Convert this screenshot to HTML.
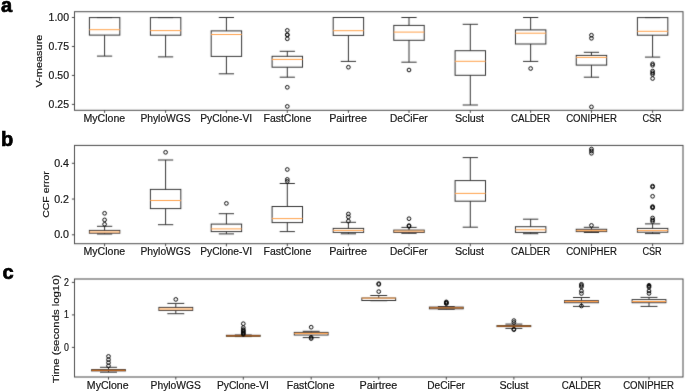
<!DOCTYPE html>
<html><head><meta charset="utf-8"><style>
html,body{margin:0;padding:0;background:#fff;}
body{width:685px;height:392px;overflow:hidden;}
svg{display:block;will-change:transform;}
svg g line, svg g rect{stroke:#333333;stroke-width:1.0;fill:none;}
line.m{stroke:#ffa048;stroke-width:1.0;}
circle.o{stroke:#000;stroke-width:0.95;fill:none;}
rect.sp{stroke:#484848;stroke-width:1.0;fill:none;}
line.tk{stroke:#484848;stroke-width:1.0;}
text{font-family:"Liberation Sans",sans-serif;fill:#1a1a1a;stroke:#1a1a1a;stroke-width:0.2px;}
text.xl{font-size:10.0px;text-anchor:middle;}
text.yl{font-size:10.0px;text-anchor:end;}
text.al{font-size:9.6px;text-anchor:middle;}
text.pl{font-size:20px;font-weight:bold;fill:#000;stroke:#000;stroke-width:0.7px;}
</style></head><body>
<svg width="685" height="392" viewBox="0 0 685 392">
<defs><filter id="bl" x="0" y="0" width="685" height="392" filterUnits="userSpaceOnUse"><feConvolveMatrix order="3" kernelMatrix="1 8 1 8 64 8 1 8 1" edgeMode="duplicate" preserveAlpha="false"/></filter></defs>
<rect width="685" height="392" fill="#fff"/>
<g filter="url(#bl)">
<g><line x1="104.6" y1="17.6" x2="104.6" y2="17.6"/><line x1="104.6" y1="35.1" x2="104.6" y2="56.1"/><line x1="96.99" y1="17.6" x2="112.21" y2="17.6"/><line x1="96.99" y1="56.1" x2="112.21" y2="56.1"/><rect x="89.39" y="17.6" width="30.43" height="17.5"/></g>
<line class="m" x1="89.39" y1="29.7" x2="119.81" y2="29.7"/>
<g><line x1="165.6" y1="17.6" x2="165.6" y2="17.6"/><line x1="165.6" y1="35.2" x2="165.6" y2="56.9"/><line x1="157.99" y1="17.6" x2="173.21" y2="17.6"/><line x1="157.99" y1="56.9" x2="173.21" y2="56.9"/><rect x="150.39" y="17.6" width="30.43" height="17.6"/></g>
<line class="m" x1="150.39" y1="30.6" x2="180.81" y2="30.6"/>
<g><line x1="226.4" y1="17.5" x2="226.4" y2="30.9"/><line x1="226.4" y1="56.4" x2="226.4" y2="73.8"/><line x1="218.79" y1="17.5" x2="234.01" y2="17.5"/><line x1="218.79" y1="73.8" x2="234.01" y2="73.8"/><rect x="211.19" y="30.9" width="30.43" height="25.5"/></g>
<line class="m" x1="211.19" y1="34.5" x2="241.61" y2="34.5"/>
<g><line x1="287.3" y1="51.3" x2="287.3" y2="56.3"/><line x1="287.3" y1="67.2" x2="287.3" y2="77.2"/><line x1="279.69" y1="51.3" x2="294.91" y2="51.3"/><line x1="279.69" y1="77.2" x2="294.91" y2="77.2"/><rect x="272.09" y="56.3" width="30.43" height="10.9"/></g>
<line class="m" x1="272.09" y1="59.4" x2="302.51" y2="59.4"/>
<circle class="o" cx="287.3" cy="30.4" r="1.85"/>
<circle class="o" cx="287.3" cy="34.7" r="1.85"/>
<circle class="o" cx="287.3" cy="35" r="1.85"/>
<circle class="o" cx="287.3" cy="38.8" r="1.85"/>
<circle class="o" cx="287.3" cy="87.3" r="1.85"/>
<circle class="o" cx="287.3" cy="106.4" r="1.85"/>
<g><line x1="348.4" y1="17.5" x2="348.4" y2="17.5"/><line x1="348.4" y1="35.4" x2="348.4" y2="61.4"/><line x1="340.79" y1="17.5" x2="356.01" y2="17.5"/><line x1="340.79" y1="61.4" x2="356.01" y2="61.4"/><rect x="333.19" y="17.5" width="30.43" height="17.9"/></g>
<line class="m" x1="333.19" y1="30.7" x2="363.61" y2="30.7"/>
<circle class="o" cx="348.4" cy="67.2" r="1.85"/>
<g><line x1="409" y1="17.5" x2="409" y2="25.4"/><line x1="409" y1="40.3" x2="409" y2="62.2"/><line x1="401.39" y1="17.5" x2="416.61" y2="17.5"/><line x1="401.39" y1="62.2" x2="416.61" y2="62.2"/><rect x="393.79" y="25.4" width="30.43" height="14.9"/></g>
<line class="m" x1="393.79" y1="32.1" x2="424.21" y2="32.1"/>
<circle class="o" cx="409" cy="70" r="1.85"/>
<g><line x1="470.3" y1="24.3" x2="470.3" y2="50.7"/><line x1="470.3" y1="75.3" x2="470.3" y2="105"/><line x1="462.69" y1="24.3" x2="477.91" y2="24.3"/><line x1="462.69" y1="105" x2="477.91" y2="105"/><rect x="455.09" y="50.7" width="30.43" height="24.6"/></g>
<line class="m" x1="455.09" y1="61.3" x2="485.51" y2="61.3"/>
<g><line x1="530.65" y1="17.5" x2="530.65" y2="29.9"/><line x1="530.65" y1="44" x2="530.65" y2="61.4"/><line x1="523.04" y1="17.5" x2="538.26" y2="17.5"/><line x1="523.04" y1="61.4" x2="538.26" y2="61.4"/><rect x="515.44" y="29.9" width="30.43" height="14.1"/></g>
<line class="m" x1="515.44" y1="33.2" x2="545.86" y2="33.2"/>
<circle class="o" cx="530.65" cy="68.5" r="1.85"/>
<g><line x1="591.45" y1="52.3" x2="591.45" y2="55.4"/><line x1="591.45" y1="65.1" x2="591.45" y2="77.2"/><line x1="583.84" y1="52.3" x2="599.06" y2="52.3"/><line x1="583.84" y1="77.2" x2="599.06" y2="77.2"/><rect x="576.24" y="55.4" width="30.43" height="9.7"/></g>
<line class="m" x1="576.24" y1="57.4" x2="606.66" y2="57.4"/>
<circle class="o" cx="591.45" cy="35.2" r="1.85"/>
<circle class="o" cx="591.45" cy="38.3" r="1.85"/>
<circle class="o" cx="591.45" cy="106.9" r="1.85"/>
<g><line x1="652.6" y1="17.6" x2="652.6" y2="17.6"/><line x1="652.6" y1="35.2" x2="652.6" y2="57.1"/><line x1="644.99" y1="17.6" x2="660.21" y2="17.6"/><line x1="644.99" y1="57.1" x2="660.21" y2="57.1"/><rect x="637.39" y="17.6" width="30.43" height="17.6"/></g>
<line class="m" x1="637.39" y1="31.3" x2="667.81" y2="31.3"/>
<circle class="o" cx="652.6" cy="63.8" r="1.85"/>
<circle class="o" cx="652.6" cy="65.3" r="1.85"/>
<circle class="o" cx="652.6" cy="71.1" r="1.85"/>
<circle class="o" cx="652.6" cy="72.8" r="1.85"/>
<circle class="o" cx="652.6" cy="74.4" r="1.85"/>
<circle class="o" cx="652.6" cy="78.5" r="1.85"/>
<rect class="sp" x="74.5" y="11.7" width="608.5" height="98.6"/>
<line class="tk" x1="104.6" y1="110.3" x2="104.6" y2="112.9"/>
<line class="tk" x1="165.6" y1="110.3" x2="165.6" y2="112.9"/>
<line class="tk" x1="226.4" y1="110.3" x2="226.4" y2="112.9"/>
<line class="tk" x1="287.3" y1="110.3" x2="287.3" y2="112.9"/>
<line class="tk" x1="348.4" y1="110.3" x2="348.4" y2="112.9"/>
<line class="tk" x1="409" y1="110.3" x2="409" y2="112.9"/>
<line class="tk" x1="470.3" y1="110.3" x2="470.3" y2="112.9"/>
<line class="tk" x1="530.65" y1="110.3" x2="530.65" y2="112.9"/>
<line class="tk" x1="591.45" y1="110.3" x2="591.45" y2="112.9"/>
<line class="tk" x1="652.6" y1="110.3" x2="652.6" y2="112.9"/>
<line class="tk" x1="71.9" y1="17.5" x2="74.5" y2="17.5"/>
<line class="tk" x1="71.9" y1="46.47" x2="74.5" y2="46.47"/>
<line class="tk" x1="71.9" y1="75.43" x2="74.5" y2="75.43"/>
<line class="tk" x1="71.9" y1="104.4" x2="74.5" y2="104.4"/>
<g><line x1="104.6" y1="226.3" x2="104.6" y2="230.4"/><line x1="104.6" y1="233.2" x2="104.6" y2="234"/><line x1="96.99" y1="226.3" x2="112.21" y2="226.3"/><line x1="96.99" y1="234" x2="112.21" y2="234"/><rect x="89.39" y="230.4" width="30.43" height="2.8"/></g>
<line class="m" x1="89.39" y1="232" x2="119.81" y2="232"/>
<circle class="o" cx="104.6" cy="213.3" r="1.85"/>
<circle class="o" cx="104.6" cy="219.9" r="1.85"/>
<circle class="o" cx="104.6" cy="224.3" r="1.85"/>
<g><line x1="165.6" y1="160" x2="165.6" y2="189.4"/><line x1="165.6" y1="208.6" x2="165.6" y2="224.7"/><line x1="157.99" y1="160" x2="173.21" y2="160"/><line x1="157.99" y1="224.7" x2="173.21" y2="224.7"/><rect x="150.39" y="189.4" width="30.43" height="19.2"/></g>
<line class="m" x1="150.39" y1="200.5" x2="180.81" y2="200.5"/>
<circle class="o" cx="165.6" cy="152.3" r="1.85"/>
<g><line x1="226.4" y1="213.7" x2="226.4" y2="224.1"/><line x1="226.4" y1="231.6" x2="226.4" y2="233.9"/><line x1="218.79" y1="213.7" x2="234.01" y2="213.7"/><line x1="218.79" y1="233.9" x2="234.01" y2="233.9"/><rect x="211.19" y="224.1" width="30.43" height="7.5"/></g>
<line class="m" x1="211.19" y1="228.9" x2="241.61" y2="228.9"/>
<circle class="o" cx="226.4" cy="203.4" r="1.85"/>
<g><line x1="287.3" y1="183.5" x2="287.3" y2="206.5"/><line x1="287.3" y1="222.6" x2="287.3" y2="231.6"/><line x1="279.69" y1="183.5" x2="294.91" y2="183.5"/><line x1="279.69" y1="231.6" x2="294.91" y2="231.6"/><rect x="272.09" y="206.5" width="30.43" height="16.1"/></g>
<line class="m" x1="272.09" y1="218.6" x2="302.51" y2="218.6"/>
<circle class="o" cx="287.3" cy="169.5" r="1.85"/>
<circle class="o" cx="287.3" cy="179.4" r="1.85"/>
<circle class="o" cx="287.3" cy="181.4" r="1.85"/>
<g><line x1="348.4" y1="222.3" x2="348.4" y2="228.4"/><line x1="348.4" y1="232.4" x2="348.4" y2="233.8"/><line x1="340.79" y1="222.3" x2="356.01" y2="222.3"/><line x1="340.79" y1="233.8" x2="356.01" y2="233.8"/><rect x="333.19" y="228.4" width="30.43" height="4"/></g>
<line class="m" x1="333.19" y1="230.4" x2="363.61" y2="230.4"/>
<circle class="o" cx="348.4" cy="214" r="1.85"/>
<circle class="o" cx="348.4" cy="216.9" r="1.85"/>
<circle class="o" cx="348.4" cy="221.1" r="1.85"/>
<g><line x1="409" y1="227.4" x2="409" y2="230.1"/><line x1="409" y1="232.4" x2="409" y2="233.3"/><line x1="401.39" y1="227.4" x2="416.61" y2="227.4"/><line x1="401.39" y1="233.3" x2="416.61" y2="233.3"/><rect x="393.79" y="230.1" width="30.43" height="2.3"/></g>
<line class="m" x1="393.79" y1="231.1" x2="424.21" y2="231.1"/>
<circle class="o" cx="409" cy="218.7" r="1.85"/>
<circle class="o" cx="409" cy="225.6" r="1.85"/>
<circle class="o" cx="409" cy="226.3" r="1.85"/>
<g><line x1="470.3" y1="157.6" x2="470.3" y2="180.6"/><line x1="470.3" y1="201.2" x2="470.3" y2="227.2"/><line x1="462.69" y1="157.6" x2="477.91" y2="157.6"/><line x1="462.69" y1="227.2" x2="477.91" y2="227.2"/><rect x="455.09" y="180.6" width="30.43" height="20.6"/></g>
<line class="m" x1="455.09" y1="193.4" x2="485.51" y2="193.4"/>
<g><line x1="530.65" y1="219.2" x2="530.65" y2="226.7"/><line x1="530.65" y1="232.4" x2="530.65" y2="233.7"/><line x1="523.04" y1="219.2" x2="538.26" y2="219.2"/><line x1="523.04" y1="233.7" x2="538.26" y2="233.7"/><rect x="515.44" y="226.7" width="30.43" height="5.7"/></g>
<line class="m" x1="515.44" y1="229.8" x2="545.86" y2="229.8"/>
<g><line x1="591.45" y1="227.3" x2="591.45" y2="229.3"/><line x1="591.45" y1="231.6" x2="591.45" y2="232.5"/><line x1="583.84" y1="227.3" x2="599.06" y2="227.3"/><line x1="583.84" y1="232.5" x2="599.06" y2="232.5"/><rect x="576.24" y="229.3" width="30.43" height="2.3"/></g>
<line class="m" x1="576.24" y1="230.7" x2="606.66" y2="230.7"/>
<circle class="o" cx="591.45" cy="149" r="1.85"/>
<circle class="o" cx="591.45" cy="151" r="1.85"/>
<circle class="o" cx="591.45" cy="153.3" r="1.85"/>
<circle class="o" cx="591.45" cy="225.4" r="1.85"/>
<g><line x1="652.6" y1="223.9" x2="652.6" y2="228.4"/><line x1="652.6" y1="232.2" x2="652.6" y2="233.6"/><line x1="644.99" y1="223.9" x2="660.21" y2="223.9"/><line x1="644.99" y1="233.6" x2="660.21" y2="233.6"/><rect x="637.39" y="228.4" width="30.43" height="3.8"/></g>
<line class="m" x1="637.39" y1="230.6" x2="667.81" y2="230.6"/>
<circle class="o" cx="652.6" cy="186.1" r="1.85"/>
<circle class="o" cx="652.6" cy="187" r="1.85"/>
<circle class="o" cx="652.6" cy="196.3" r="1.85"/>
<circle class="o" cx="652.6" cy="206.6" r="1.85"/>
<circle class="o" cx="652.6" cy="207.2" r="1.85"/>
<circle class="o" cx="652.6" cy="207.8" r="1.85"/>
<circle class="o" cx="652.6" cy="218" r="1.85"/>
<circle class="o" cx="652.6" cy="220" r="1.85"/>
<circle class="o" cx="652.6" cy="221.5" r="1.85"/>
<rect class="sp" x="74.5" y="145.4" width="608.5" height="98.3"/>
<line class="tk" x1="104.6" y1="243.7" x2="104.6" y2="246.3"/>
<line class="tk" x1="165.6" y1="243.7" x2="165.6" y2="246.3"/>
<line class="tk" x1="226.4" y1="243.7" x2="226.4" y2="246.3"/>
<line class="tk" x1="287.3" y1="243.7" x2="287.3" y2="246.3"/>
<line class="tk" x1="348.4" y1="243.7" x2="348.4" y2="246.3"/>
<line class="tk" x1="409" y1="243.7" x2="409" y2="246.3"/>
<line class="tk" x1="470.3" y1="243.7" x2="470.3" y2="246.3"/>
<line class="tk" x1="530.65" y1="243.7" x2="530.65" y2="246.3"/>
<line class="tk" x1="591.45" y1="243.7" x2="591.45" y2="246.3"/>
<line class="tk" x1="652.6" y1="243.7" x2="652.6" y2="246.3"/>
<line class="tk" x1="71.9" y1="163.3" x2="74.5" y2="163.3"/>
<line class="tk" x1="71.9" y1="199.05" x2="74.5" y2="199.05"/>
<line class="tk" x1="71.9" y1="234.8" x2="74.5" y2="234.8"/>
<g><line x1="108.5" y1="367.3" x2="108.5" y2="369.6"/><line x1="108.5" y1="370.9" x2="108.5" y2="372.2"/><line x1="100.05" y1="367.3" x2="116.95" y2="367.3"/><line x1="100.05" y1="372.2" x2="116.95" y2="372.2"/><rect x="91.6" y="369.6" width="33.81" height="1.3"/></g>
<line class="m" style="stroke:#b8641c;stroke-width:1.3" x1="91.6" y1="370.3" x2="125.4" y2="370.3"/>
<circle class="o" cx="108.5" cy="356.4" r="1.85"/>
<circle class="o" cx="108.5" cy="359.6" r="1.85"/>
<circle class="o" cx="108.5" cy="362.6" r="1.85"/>
<circle class="o" cx="108.5" cy="365.8" r="1.85"/>
<g><line x1="175.8" y1="303.4" x2="175.8" y2="307.4"/><line x1="175.8" y1="310.4" x2="175.8" y2="313.7"/><line x1="167.35" y1="303.4" x2="184.25" y2="303.4"/><line x1="167.35" y1="313.7" x2="184.25" y2="313.7"/><rect x="158.9" y="307.4" width="33.81" height="3"/></g>
<line class="m" x1="158.9" y1="309" x2="192.7" y2="309"/>
<circle class="o" cx="175.8" cy="299.4" r="1.85"/>
<g><line x1="243.3" y1="335" x2="243.3" y2="335.3"/><line x1="243.3" y1="336.3" x2="243.3" y2="336.6"/><line x1="234.85" y1="335" x2="251.75" y2="335"/><line x1="234.85" y1="336.6" x2="251.75" y2="336.6"/><rect x="226.4" y="335.3" width="33.81" height="1"/></g>
<line class="m" style="stroke:#b8641c;stroke-width:1.3" x1="226.4" y1="335.8" x2="260.2" y2="335.8"/>
<circle class="o" cx="243.3" cy="323.7" r="1.85"/>
<circle class="o" cx="243.3" cy="327.6" r="1.85"/>
<circle class="o" cx="243.3" cy="329.6" r="1.85"/>
<circle class="o" cx="243.3" cy="330.6" r="1.85"/>
<circle class="o" cx="243.3" cy="331.6" r="1.85"/>
<circle class="o" cx="243.3" cy="332.6" r="1.85"/>
<circle class="o" cx="243.3" cy="333.6" r="1.85"/>
<circle class="o" cx="243.3" cy="334.4" r="1.85"/>
<g><line x1="311.19" y1="331.3" x2="311.19" y2="332.4"/><line x1="311.19" y1="335" x2="311.19" y2="337.6"/><line x1="302.74" y1="331.3" x2="319.64" y2="331.3"/><line x1="302.74" y1="337.6" x2="319.64" y2="337.6"/><rect x="294.28" y="332.4" width="33.81" height="2.6"/></g>
<line class="m" x1="294.28" y1="333.4" x2="328.09" y2="333.4"/>
<circle class="o" cx="311.19" cy="327.2" r="1.85"/>
<circle class="o" cx="311.19" cy="337.3" r="1.85"/>
<circle class="o" cx="311.19" cy="338.6" r="1.85"/>
<g><line x1="378.75" y1="295.5" x2="378.75" y2="298"/><line x1="378.75" y1="300.5" x2="378.75" y2="300.7"/><line x1="370.3" y1="295.5" x2="387.2" y2="295.5"/><line x1="370.3" y1="300.7" x2="387.2" y2="300.7"/><rect x="361.85" y="298" width="33.81" height="2.5"/></g>
<line class="m" x1="361.85" y1="298.1" x2="395.65" y2="298.1"/>
<circle class="o" cx="378.75" cy="283.6" r="1.85"/>
<circle class="o" cx="378.75" cy="284.4" r="1.85"/>
<circle class="o" cx="378.75" cy="291.6" r="1.85"/>
<g><line x1="446.31" y1="306.5" x2="446.31" y2="307.1"/><line x1="446.31" y1="308.8" x2="446.31" y2="309.3"/><line x1="437.86" y1="306.5" x2="454.76" y2="306.5"/><line x1="437.86" y1="309.3" x2="454.76" y2="309.3"/><rect x="429.41" y="307.1" width="33.81" height="1.7"/></g>
<line class="m" style="stroke:#b8641c;stroke-width:1.3" x1="429.41" y1="307.95" x2="463.22" y2="307.95"/>
<circle class="o" cx="446.31" cy="301.9" r="1.85"/>
<circle class="o" cx="446.31" cy="302.5" r="1.85"/>
<circle class="o" cx="446.31" cy="303.1" r="1.85"/>
<circle class="o" cx="446.31" cy="303.7" r="1.85"/>
<g><line x1="513.88" y1="324.1" x2="513.88" y2="325.6"/><line x1="513.88" y1="326.6" x2="513.88" y2="328.4"/><line x1="505.42" y1="324.1" x2="522.33" y2="324.1"/><line x1="505.42" y1="328.4" x2="522.33" y2="328.4"/><rect x="496.97" y="325.6" width="33.81" height="1"/></g>
<line class="m" style="stroke:#b8641c;stroke-width:1.3" x1="496.97" y1="326.1" x2="530.78" y2="326.1"/>
<circle class="o" cx="513.88" cy="320.6" r="1.85"/>
<circle class="o" cx="513.88" cy="322.5" r="1.85"/>
<circle class="o" cx="513.88" cy="329.1" r="1.85"/>
<circle class="o" cx="513.88" cy="329.7" r="1.85"/>
<g><line x1="581.44" y1="297.5" x2="581.44" y2="300.6"/><line x1="581.44" y1="302.7" x2="581.44" y2="306.4"/><line x1="572.99" y1="297.5" x2="589.89" y2="297.5"/><line x1="572.99" y1="306.4" x2="589.89" y2="306.4"/><rect x="564.53" y="300.6" width="33.81" height="2.1"/></g>
<line class="m" x1="564.53" y1="301.5" x2="598.34" y2="301.5"/>
<circle class="o" cx="581.44" cy="284.3" r="1.85"/>
<circle class="o" cx="581.44" cy="285.5" r="1.85"/>
<circle class="o" cx="581.44" cy="286.8" r="1.85"/>
<circle class="o" cx="581.44" cy="291" r="1.85"/>
<circle class="o" cx="581.44" cy="293.5" r="1.85"/>
<circle class="o" cx="581.44" cy="306" r="1.85"/>
<g><line x1="649" y1="297.4" x2="649" y2="299.6"/><line x1="649" y1="302.7" x2="649" y2="306.4"/><line x1="640.55" y1="297.4" x2="657.45" y2="297.4"/><line x1="640.55" y1="306.4" x2="657.45" y2="306.4"/><rect x="632.1" y="299.6" width="33.81" height="3.1"/></g>
<line class="m" x1="632.1" y1="301.5" x2="665.9" y2="301.5"/>
<circle class="o" cx="649" cy="285.3" r="1.85"/>
<circle class="o" cx="649" cy="286.2" r="1.85"/>
<circle class="o" cx="649" cy="287.2" r="1.85"/>
<circle class="o" cx="649" cy="291" r="1.85"/>
<circle class="o" cx="649" cy="293.4" r="1.85"/>
<rect class="sp" x="74.5" y="279" width="608.5" height="98"/>
<line class="tk" x1="108.5" y1="377" x2="108.5" y2="379.6"/>
<line class="tk" x1="175.8" y1="377" x2="175.8" y2="379.6"/>
<line class="tk" x1="243.3" y1="377" x2="243.3" y2="379.6"/>
<line class="tk" x1="311.19" y1="377" x2="311.19" y2="379.6"/>
<line class="tk" x1="378.75" y1="377" x2="378.75" y2="379.6"/>
<line class="tk" x1="446.31" y1="377" x2="446.31" y2="379.6"/>
<line class="tk" x1="513.88" y1="377" x2="513.88" y2="379.6"/>
<line class="tk" x1="581.44" y1="377" x2="581.44" y2="379.6"/>
<line class="tk" x1="649" y1="377" x2="649" y2="379.6"/>
<line class="tk" x1="71.9" y1="282.4" x2="74.5" y2="282.4"/>
<line class="tk" x1="71.9" y1="314.9" x2="74.5" y2="314.9"/>
<line class="tk" x1="71.9" y1="347.4" x2="74.5" y2="347.4"/>
</g>
<g class="t">
<text class="xl" x="104.35" y="121.9" textLength="41.7" lengthAdjust="spacingAndGlyphs">MyClone</text>
<text class="xl" x="165.55" y="121.9" textLength="50.3" lengthAdjust="spacingAndGlyphs">PhyloWGS</text>
<text class="xl" x="226.2" y="121.9" textLength="52.0" lengthAdjust="spacingAndGlyphs">PyClone-VI</text>
<text class="xl" x="287.35" y="121.9" textLength="47.7" lengthAdjust="spacingAndGlyphs">FastClone</text>
<text class="xl" x="348.05" y="121.9" textLength="37.7" lengthAdjust="spacingAndGlyphs">Pairtree</text>
<text class="xl" x="408.85" y="121.9" textLength="37.7" lengthAdjust="spacingAndGlyphs">DeCiFer</text>
<text class="xl" x="469.5" y="121.9" textLength="29.2" lengthAdjust="spacingAndGlyphs">Sclust</text>
<text class="xl" x="530.6" y="121.9" textLength="39.4" lengthAdjust="spacingAndGlyphs">CALDER</text>
<text class="xl" x="591.55" y="121.9" textLength="50.7" lengthAdjust="spacingAndGlyphs">CONIPHER</text>
<text class="xl" x="652.05" y="121.9" textLength="19.3" lengthAdjust="spacingAndGlyphs">CSR</text>
<text class="yl" x="69" y="21.05" textLength="20.4" lengthAdjust="spacingAndGlyphs">1.00</text>
<text class="yl" x="69" y="50.02" textLength="20.4" lengthAdjust="spacingAndGlyphs">0.75</text>
<text class="yl" x="69" y="78.98" textLength="20.4" lengthAdjust="spacingAndGlyphs">0.50</text>
<text class="yl" x="69" y="107.95" textLength="20.4" lengthAdjust="spacingAndGlyphs">0.25</text>
<text class="al" transform="translate(42.3,61.1) rotate(-90)" x="0" y="0" textLength="53.0" lengthAdjust="spacingAndGlyphs">V-measure</text>
<text class="pl" x="1" y="11.9">a</text>
<text class="xl" x="104.35" y="255.3" textLength="41.7" lengthAdjust="spacingAndGlyphs">MyClone</text>
<text class="xl" x="165.55" y="255.3" textLength="50.3" lengthAdjust="spacingAndGlyphs">PhyloWGS</text>
<text class="xl" x="226.2" y="255.3" textLength="52.0" lengthAdjust="spacingAndGlyphs">PyClone-VI</text>
<text class="xl" x="287.35" y="255.3" textLength="47.7" lengthAdjust="spacingAndGlyphs">FastClone</text>
<text class="xl" x="348.05" y="255.3" textLength="37.7" lengthAdjust="spacingAndGlyphs">Pairtree</text>
<text class="xl" x="408.85" y="255.3" textLength="37.7" lengthAdjust="spacingAndGlyphs">DeCiFer</text>
<text class="xl" x="469.5" y="255.3" textLength="29.2" lengthAdjust="spacingAndGlyphs">Sclust</text>
<text class="xl" x="530.6" y="255.3" textLength="39.4" lengthAdjust="spacingAndGlyphs">CALDER</text>
<text class="xl" x="591.55" y="255.3" textLength="50.7" lengthAdjust="spacingAndGlyphs">CONIPHER</text>
<text class="xl" x="652.05" y="255.3" textLength="19.3" lengthAdjust="spacingAndGlyphs">CSR</text>
<text class="yl" x="69" y="166.85" textLength="14.8" lengthAdjust="spacingAndGlyphs">0.4</text>
<text class="yl" x="69" y="202.6" textLength="14.8" lengthAdjust="spacingAndGlyphs">0.2</text>
<text class="yl" x="69" y="238.35" textLength="14.8" lengthAdjust="spacingAndGlyphs">0.0</text>
<text class="al" transform="translate(48.8,194.5) rotate(-90)" x="0" y="0" textLength="46.7" lengthAdjust="spacingAndGlyphs">CCF error</text>
<text class="pl" x="0.9" y="145.8">b</text>
<text class="xl" x="107.7" y="388.6" textLength="41.7" lengthAdjust="spacingAndGlyphs">MyClone</text>
<text class="xl" x="175.7" y="388.6" textLength="50.3" lengthAdjust="spacingAndGlyphs">PhyloWGS</text>
<text class="xl" x="242.9" y="388.6" textLength="52.0" lengthAdjust="spacingAndGlyphs">PyClone-VI</text>
<text class="xl" x="310.65" y="388.6" textLength="47.7" lengthAdjust="spacingAndGlyphs">FastClone</text>
<text class="xl" x="378.35" y="388.6" textLength="37.7" lengthAdjust="spacingAndGlyphs">Pairtree</text>
<text class="xl" x="446.05" y="388.6" textLength="37.7" lengthAdjust="spacingAndGlyphs">DeCiFer</text>
<text class="xl" x="514" y="388.6" textLength="29.2" lengthAdjust="spacingAndGlyphs">Sclust</text>
<text class="xl" x="581.35" y="388.6" textLength="39.4" lengthAdjust="spacingAndGlyphs">CALDER</text>
<text class="xl" x="648.55" y="388.6" textLength="50.7" lengthAdjust="spacingAndGlyphs">CONIPHER</text>
<text class="yl" x="69" y="285.95" textLength="4.9" lengthAdjust="spacingAndGlyphs">2</text>
<text class="yl" x="69" y="318.45" textLength="4.9" lengthAdjust="spacingAndGlyphs">1</text>
<text class="yl" x="69" y="350.95" textLength="4.9" lengthAdjust="spacingAndGlyphs">0</text>
<text class="al" transform="translate(58.6,329) rotate(-90)" x="0" y="0" textLength="108.4" lengthAdjust="spacingAndGlyphs">Time (seconds log10)</text>
<text class="pl" x="2.6" y="279.1">c</text>
</g>
</svg>
</body></html>
